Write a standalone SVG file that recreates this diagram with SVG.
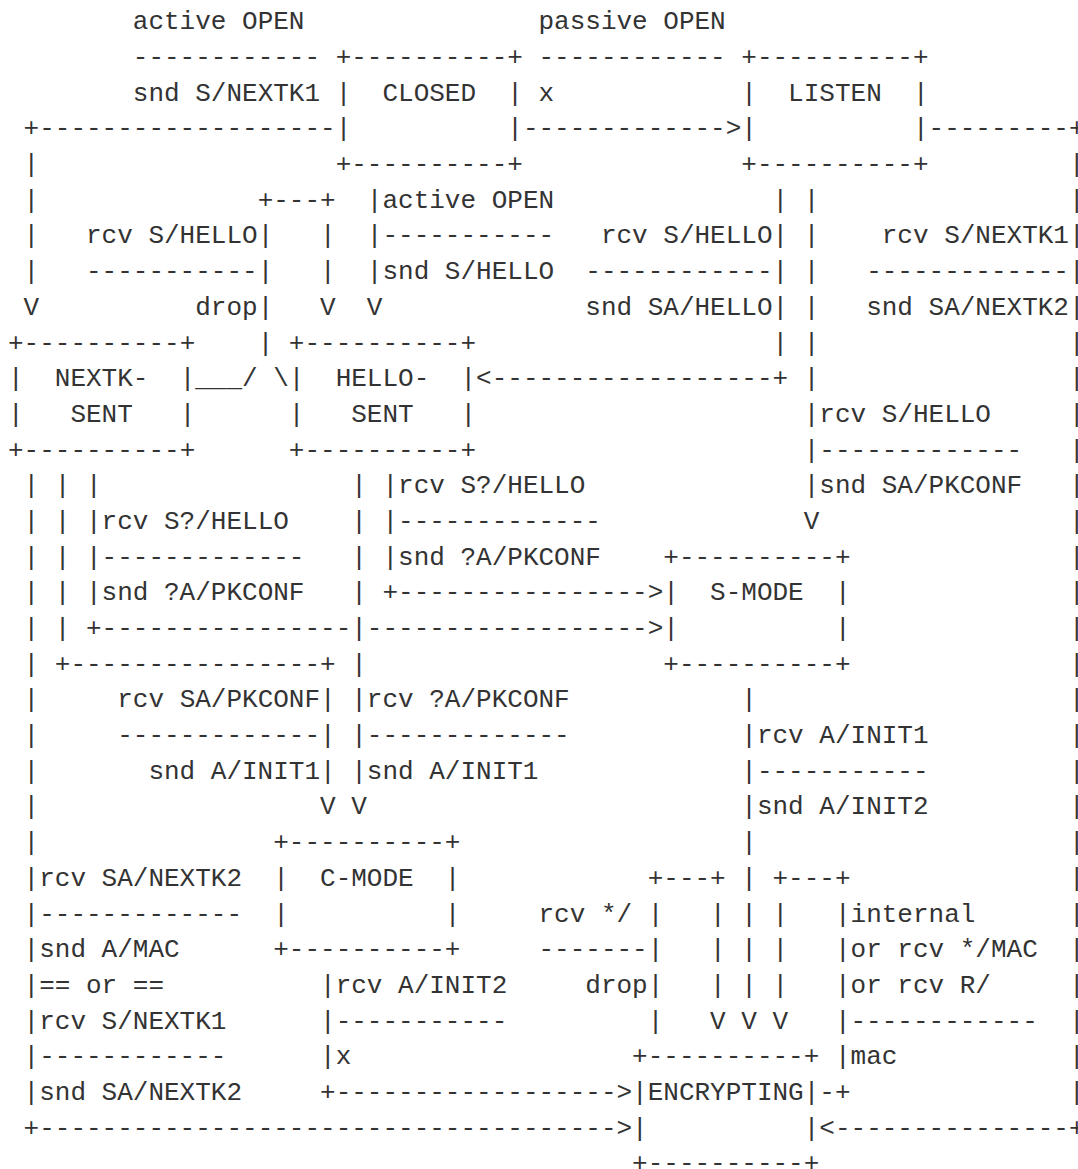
<svg xmlns="http://www.w3.org/2000/svg" width="1078" height="1169" viewBox="0 0 1078 1169">
<style>
text { font-family: "Liberation Mono", "DejaVu Sans Mono", monospace; font-size: 26px; fill: #333333; white-space: pre; }
</style>
<rect x="0" y="0" width="1078" height="1169" fill="#ffffff"/>
<g id="node-closed">
<text xml:space="preserve" x="335.65" y="64.99">+----------+</text>
<text xml:space="preserve" x="335.65" y="100.68">|  CLOSED  |</text>
<text xml:space="preserve" x="335.65" y="136.37">|          |</text>
<text xml:space="preserve" x="335.65" y="172.06">+----------+</text>
</g>
<g id="node-listen">
<text xml:space="preserve" x="741.32" y="64.99">+----------+</text>
<text xml:space="preserve" x="741.32" y="100.68">|  LISTEN  |</text>
<text xml:space="preserve" x="741.32" y="136.37">|          |</text>
<text xml:space="preserve" x="741.32" y="172.06">+----------+</text>
</g>
<g id="node-nextk-sent">
<text xml:space="preserve" x="8" y="350.51">+----------+</text>
<text xml:space="preserve" x="8" y="386.2">|  NEXTK-  |</text>
<text xml:space="preserve" x="8" y="421.89">|   SENT   |</text>
<text xml:space="preserve" x="8" y="457.58">+----------+</text>
</g>
<g id="node-hello-sent">
<text xml:space="preserve" x="288.85" y="350.51">+----------+</text>
<text xml:space="preserve" x="288.85" y="386.2">|  HELLO-  |</text>
<text xml:space="preserve" x="288.85" y="421.89">|   SENT   |</text>
<text xml:space="preserve" x="288.85" y="457.58">+----------+</text>
</g>
<g id="node-s-mode">
<text xml:space="preserve" x="663.31" y="564.65">+----------+</text>
<text xml:space="preserve" x="663.31" y="600.34">|  S-MODE  |</text>
<text xml:space="preserve" x="663.31" y="636.03">|          |</text>
<text xml:space="preserve" x="663.31" y="671.72">+----------+</text>
</g>
<g id="node-c-mode">
<text xml:space="preserve" x="273.24" y="850.17">+----------+</text>
<text xml:space="preserve" x="273.24" y="885.86">|  C-MODE  |</text>
<text xml:space="preserve" x="273.24" y="921.55">|          |</text>
<text xml:space="preserve" x="273.24" y="957.24">+----------+</text>
</g>
<g id="node-encrypting">
<text xml:space="preserve" x="632.10" y="1064.31">+----------+</text>
<text xml:space="preserve" x="632.10" y="1100">|ENCRYPTING|</text>
<text xml:space="preserve" x="632.10" y="1135.69">|          |</text>
<text xml:space="preserve" x="632.10" y="1171.38">+----------+</text>
</g>
<g id="connectors">
<text xml:space="preserve" y="29.3"><tspan x="132.82">active OPEN</tspan><tspan x="538.49">passive OPEN</tspan></text>
<text xml:space="preserve" y="64.99"><tspan x="132.82">------------</tspan><tspan x="538.49">------------</tspan></text>
<text xml:space="preserve" y="100.68"><tspan x="132.82">snd S/NEXTK1</tspan><tspan x="538.49">x</tspan></text>
<text xml:space="preserve" y="136.37"><tspan x="23.60">+-------------------</tspan><tspan x="522.88">-------------&gt;</tspan><tspan x="928.55">---------+</tspan></text>
<text xml:space="preserve" y="172.06"><tspan x="23.60">|</tspan><tspan x="1068.97">|</tspan></text>
<text xml:space="preserve" y="207.75"><tspan x="23.60">|</tspan><tspan x="257.64">+---+</tspan><tspan x="366.86">|active OPEN</tspan><tspan x="772.52">| |</tspan><tspan x="1068.97">|</tspan></text>
<text xml:space="preserve" y="243.44"><tspan x="23.60">|</tspan><tspan x="86.01">rcv S/HELLO|</tspan><tspan x="320.05">|</tspan><tspan x="366.86">|-----------</tspan><tspan x="600.90">rcv S/HELLO| |</tspan><tspan x="881.74">rcv S/NEXTK1|</tspan></text>
<text xml:space="preserve" y="279.13"><tspan x="23.60">|</tspan><tspan x="86.01">-----------|</tspan><tspan x="320.05">|</tspan><tspan x="366.86">|snd S/HELLO</tspan><tspan x="585.29">------------| |</tspan><tspan x="866.14">-------------|</tspan></text>
<text xml:space="preserve" y="314.82"><tspan x="23.60">V</tspan><tspan x="195.23">drop|</tspan><tspan x="320.05">V</tspan><tspan x="366.86">V</tspan><tspan x="585.29">snd SA/HELLO| |</tspan><tspan x="866.14">snd SA/NEXTK2|</tspan></text>
<text xml:space="preserve" y="350.51"><tspan x="257.64">|</tspan><tspan x="772.52">| |</tspan><tspan x="1068.97">|</tspan></text>
<text xml:space="preserve" y="386.2"><tspan x="195.23">___/ \</tspan><tspan x="476.08">&lt;------------------+ |</tspan><tspan x="1068.97">|</tspan></text>
<text xml:space="preserve" y="421.89"><tspan x="803.73">|rcv S/HELLO</tspan><tspan x="1068.97">|</tspan></text>
<text xml:space="preserve" y="457.58"><tspan x="803.73">|-------------</tspan><tspan x="1068.97">|</tspan></text>
<text xml:space="preserve" y="493.27"><tspan x="23.60">| | |</tspan><tspan x="351.26">| |rcv S?/HELLO</tspan><tspan x="803.73">|snd SA/PKCONF</tspan><tspan x="1068.97">|</tspan></text>
<text xml:space="preserve" y="528.96"><tspan x="23.60">| | |rcv S?/HELLO</tspan><tspan x="351.26">| |-------------</tspan><tspan x="803.73">V</tspan><tspan x="1068.97">|</tspan></text>
<text xml:space="preserve" y="564.65"><tspan x="23.60">| | |-------------</tspan><tspan x="351.26">| |snd ?A/PKCONF</tspan><tspan x="1068.97">|</tspan></text>
<text xml:space="preserve" y="600.34"><tspan x="23.60">| | |snd ?A/PKCONF</tspan><tspan x="351.26">| +----------------&gt;</tspan><tspan x="1068.97">|</tspan></text>
<text xml:space="preserve" y="636.03"><tspan x="23.60">| | +----------------|------------------&gt;</tspan><tspan x="1068.97">|</tspan></text>
<text xml:space="preserve" y="671.72"><tspan x="23.60">| +----------------+ |</tspan><tspan x="1068.97">|</tspan></text>
<text xml:space="preserve" y="707.41"><tspan x="23.60">|</tspan><tspan x="117.22">rcv SA/PKCONF| |rcv ?A/PKCONF</tspan><tspan x="741.32">|</tspan><tspan x="1068.97">|</tspan></text>
<text xml:space="preserve" y="743.1"><tspan x="23.60">|</tspan><tspan x="117.22">-------------| |-------------</tspan><tspan x="741.32">|rcv A/INIT1</tspan><tspan x="1068.97">|</tspan></text>
<text xml:space="preserve" y="778.79"><tspan x="23.60">|</tspan><tspan x="148.42">snd A/INIT1| |snd A/INIT1</tspan><tspan x="741.32">|-----------</tspan><tspan x="1068.97">|</tspan></text>
<text xml:space="preserve" y="814.48"><tspan x="23.60">|</tspan><tspan x="320.05">V V</tspan><tspan x="741.32">|snd A/INIT2</tspan><tspan x="1068.97">|</tspan></text>
<text xml:space="preserve" y="850.17"><tspan x="23.60">|</tspan><tspan x="741.32">|</tspan><tspan x="1068.97">|</tspan></text>
<text xml:space="preserve" y="885.86"><tspan x="23.60">|rcv SA/NEXTK2</tspan><tspan x="647.70">+---+ | +---+</tspan><tspan x="1068.97">|</tspan></text>
<text xml:space="preserve" y="921.55"><tspan x="23.60">|-------------</tspan><tspan x="538.49">rcv */ |   | | |   |internal</tspan><tspan x="1068.97">|</tspan></text>
<text xml:space="preserve" y="957.24"><tspan x="23.60">|snd A/MAC</tspan><tspan x="538.49">-------|   | | |   |or rcv */MAC</tspan><tspan x="1068.97">|</tspan></text>
<text xml:space="preserve" y="992.93"><tspan x="23.60">|</tspan><tspan x="39.21">== or ==</tspan><tspan x="320.05">|rcv A/INIT2</tspan><tspan x="585.29">drop|   | | |   |or rcv R/</tspan><tspan x="1068.97">|</tspan></text>
<text xml:space="preserve" y="1028.62"><tspan x="23.60">|rcv S/NEXTK1</tspan><tspan x="320.05">|-----------</tspan><tspan x="647.70">|   V V V   |------------</tspan><tspan x="1068.97">|</tspan></text>
<text xml:space="preserve" y="1064.31"><tspan x="23.60">|------------</tspan><tspan x="320.05">|x</tspan><tspan x="834.93">|mac</tspan><tspan x="1068.97">|</tspan></text>
<text xml:space="preserve" y="1100"><tspan x="23.60">|snd SA/NEXTK2</tspan><tspan x="320.05">+------------------&gt;</tspan><tspan x="819.33">-+</tspan><tspan x="1068.97">|</tspan></text>
<text xml:space="preserve" y="1135.69"><tspan x="23.60">+-------------------------------------&gt;</tspan><tspan x="819.33">&lt;---------------+</tspan></text>
</g>
</svg>
